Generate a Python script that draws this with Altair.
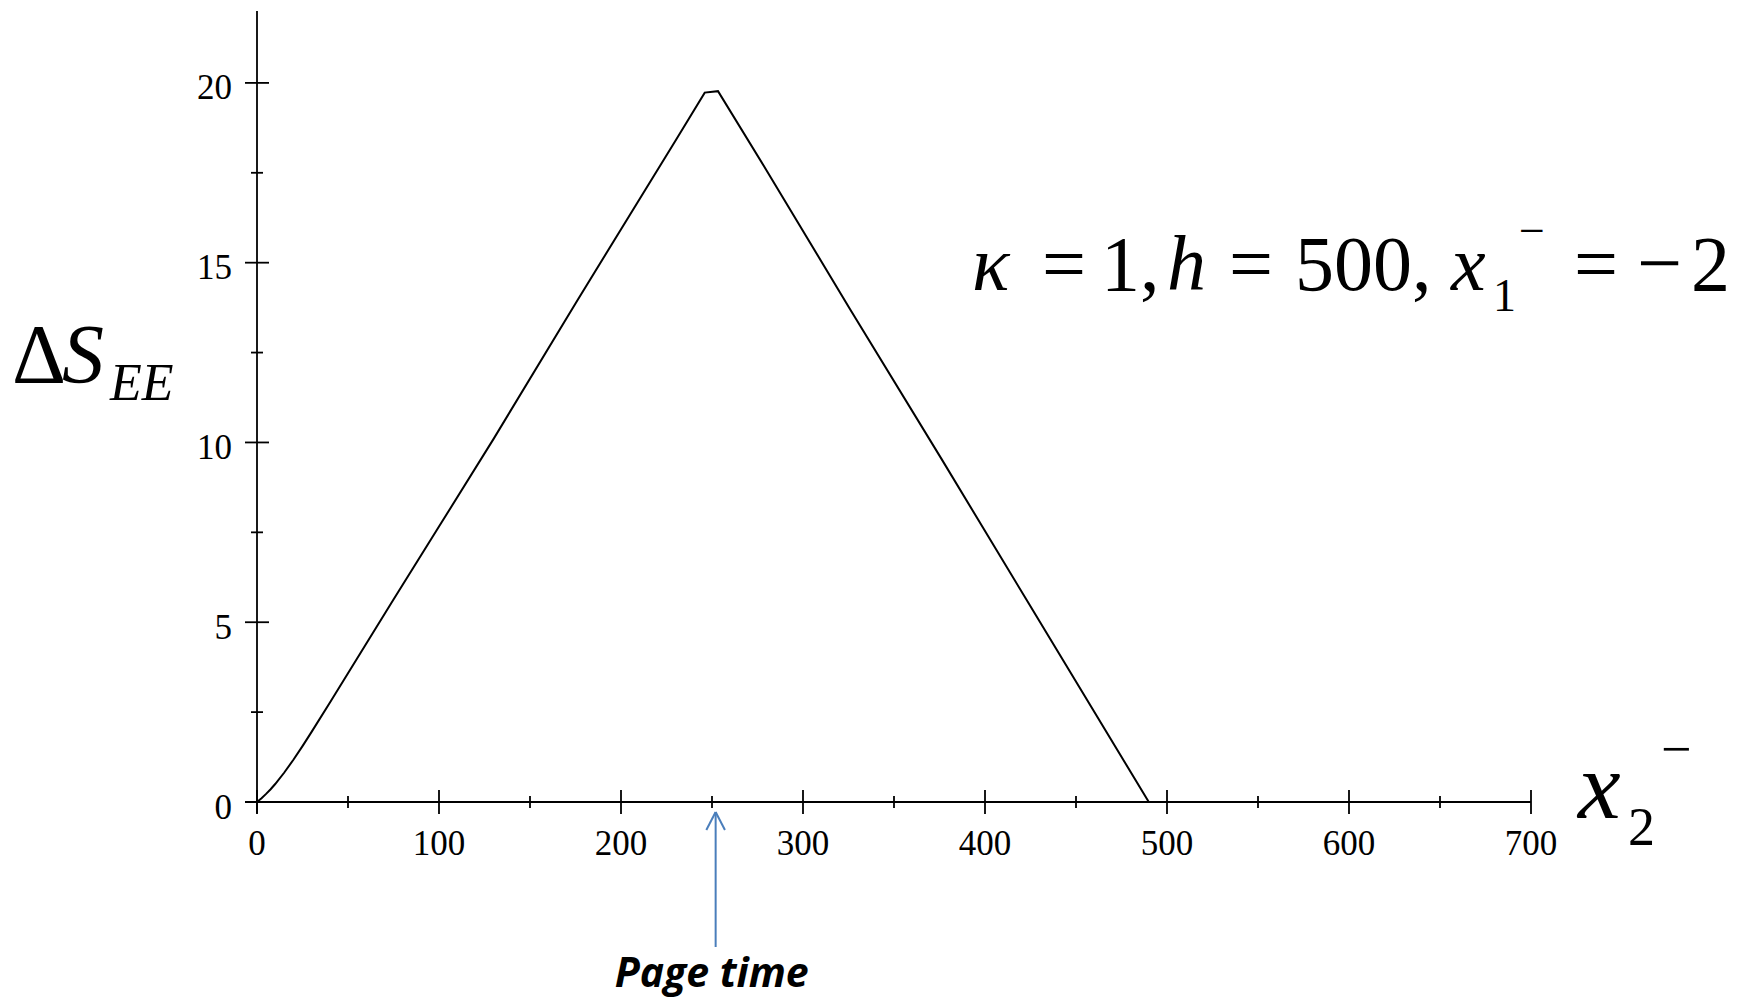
import altair as alt
import pandas as pd

# ---- data ----
curve_x = [0, 2.5, 5, 7.5, 10, 15, 20, 25, 30, 40, 55, 75, 100, 130, 176, 230, 246,
           253.3, 279, 325.7, 376, 422.4, 490]
curve_y = [0, 0.105, 0.225, 0.355, 0.5, 0.82, 1.175, 1.555, 1.95, 2.76, 3.99, 5.63,
           7.66, 10.1, 13.95, 18.4, 19.73, 19.77, 17.65, 13.72, 9.55, 5.66, 0]

x_major = [0, 100, 200, 300, 400, 500, 600, 700]
x_minor = [50, 150, 250, 350, 450, 550, 650]
y_major = [0, 5, 10, 15, 20]
y_minor = [2.5, 7.5, 12.5, 17.5]
page_time = 252

# ---- layout ----
W, H = 1274, 791
XMAX, YMAX = 700, 22
px_per_x = W / XMAX
serif = "Liberation Serif"

xs = alt.Scale(domain=[0, XMAX], nice=False, zero=False)
ys = alt.Scale(domain=[0, YMAX], nice=False, zero=False)


def one():
    return pd.DataFrame({"k": [0]})


curve = alt.Chart(pd.DataFrame({"x": curve_x, "y": curve_y})).mark_line(
    color="black", strokeWidth=2
).encode(
    x=alt.X("x:Q", scale=xs, axis=None),
    y=alt.Y("y:Q", scale=ys, axis=None),
    order="x:Q",
)

x_axis_line = alt.Chart(pd.DataFrame({"y": [0]})).mark_rule(color="black", strokeWidth=1.8).encode(
    x=alt.value(-12), x2=alt.value(W), y=alt.Y("y:Q", scale=ys, axis=None)
)
y_axis_line = alt.Chart(one()).mark_rule(color="black", strokeWidth=1.8).encode(
    x=alt.value(0), y=alt.value(0), y2=alt.value(H + 11.5)
)

dfxM = pd.DataFrame({"v": x_major, "lab": [str(v) for v in x_major]})
dfxm = pd.DataFrame({"v": x_minor})
dfyM = pd.DataFrame({"v": y_major, "lab": [str(v) for v in y_major]})
dfym = pd.DataFrame({"v": y_minor})

x_major_ticks = alt.Chart(dfxM).mark_rule(color="black", strokeWidth=1.8).encode(
    x=alt.X("v:Q", scale=xs, axis=None), y=alt.value(H - 12), y2=alt.value(H + 12)
)
x_minor_ticks = alt.Chart(dfxm).mark_rule(color="black", strokeWidth=1.8).encode(
    x=alt.X("v:Q", scale=xs, axis=None), y=alt.value(H - 6), y2=alt.value(H + 6)
)
y_major_ticks = alt.Chart(dfyM).mark_rule(color="black", strokeWidth=1.8).encode(
    y=alt.Y("v:Q", scale=ys, axis=None), x=alt.value(-12), x2=alt.value(12)
)
y_minor_ticks = alt.Chart(dfym).mark_rule(color="black", strokeWidth=1.8).encode(
    y=alt.Y("v:Q", scale=ys, axis=None), x=alt.value(-6), x2=alt.value(6)
)

x_labels = alt.Chart(dfxM).mark_text(
    font=serif, fontSize=35, color="black", align="center", baseline="alphabetic", dy=53
).encode(x=alt.X("v:Q", scale=xs, axis=None), y=alt.value(H), text="lab:N")

y_labels = alt.Chart(dfyM).mark_text(
    font=serif, fontSize=35, color="black", align="right", baseline="alphabetic", dy=16.5
).encode(y=alt.Y("v:Q", scale=ys, axis=None), x=alt.value(-25), text="lab:N")


def txt(s, x, y, size, style="normal", weight="normal", font=serif, color="black", align="left"):
    return alt.Chart(one()).mark_text(
        text=s, font=font, fontSize=size, fontStyle=style, fontWeight=weight,
        color=color, align=align, baseline="alphabetic"
    ).encode(x=alt.value(x), y=alt.value(y))


# y axis title  ΔS_EE
ytitle = [
    txt("Δ", -245, 372, 84),
    txt("S", -195, 372, 84, "italic"),
    txt("EE", -147, 389, 52, "italic"),
]
# x axis title  x2^-
xtitle = [
    txt("x", 1321, 807, 96, "italic"),
    txt("2", 1371, 834, 54),
    txt("−", 1404, 756, 54),
]
# parameter annotation
ann = [
    txt("κ", 715, 279, 78, "italic"),
    txt("=", 785, 279, 78),
    txt("1,", 844, 279, 78),
    txt("h", 910, 279, 78, "italic"),
    txt("=", 972, 279, 78),
    txt("500,", 1038, 279, 78),
    txt("x", 1194, 279, 78, "italic"),
    txt("1", 1236, 300, 46),
    txt("−", 1262, 235, 46),
    txt("=", 1317, 279, 78),
    txt("−", 1380, 279, 80),
    txt("2", 1434, 279, 78),
]

# page-time arrow
blue = "#4A7EBB"
wing = 9.3 / px_per_x
arrow_shaft = alt.Chart(pd.DataFrame({"x": [page_time]})).mark_rule(color=blue, strokeWidth=2).encode(
    x=alt.X("x:Q", scale=xs, axis=None), y=alt.value(H + 10), y2=alt.value(H + 145)
)
arrow_head = alt.Chart(pd.DataFrame({"a": [page_time - wing, page_time + wing],
                                     "b": [page_time, page_time]})).mark_rule(
    color=blue, strokeWidth=2
).encode(
    x=alt.X("a:Q", scale=xs, axis=None), x2="b:Q",
    y=alt.value(H + 28), y2=alt.value(H + 10)
)
page_label = alt.Chart(pd.DataFrame({"x": [page_time]})).mark_text(
    text="Page time", font="Open Sans", fontSize=41, fontStyle="italic",
    fontWeight="bold", color="black", align="center", baseline="alphabetic", dx=-4
).encode(x=alt.X("x:Q", scale=xs, axis=None), y=alt.value(976))

chart = alt.layer(
    x_axis_line, y_axis_line, x_major_ticks, x_minor_ticks, y_major_ticks, y_minor_ticks,
    curve, x_labels, y_labels, *ytitle, *xtitle, *ann,
    arrow_shaft, arrow_head, page_label,
).properties(
    width=W, height=H,
    padding={"left": 249, "top": 3, "right": 200, "bottom": 198},
    autosize=alt.AutoSizeParams(type="none"),
    background="white",
).configure_view(stroke=None)

chart.save("out.html", embed_options={"renderer": "svg", "actions": False})
